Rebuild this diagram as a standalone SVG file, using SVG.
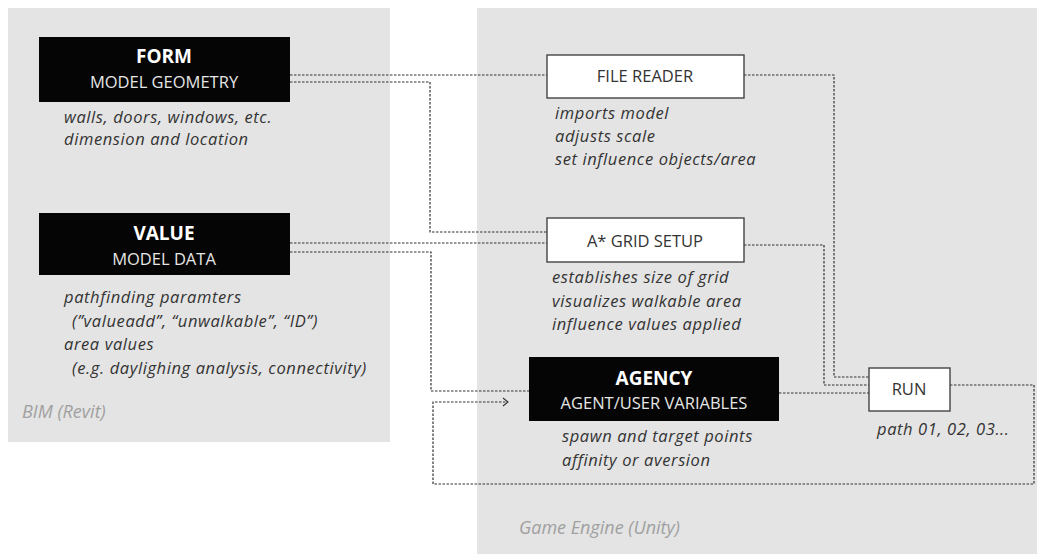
<svg xmlns="http://www.w3.org/2000/svg" width="1042" height="554" viewBox="0 0 1042 554">
<defs>
<style>
.panel{fill:#e4e4e4}
.dark{fill:#050505}
.light{fill:#ffffff;stroke:#444;stroke-width:1.4}
.t1{font-family:"Open Sans",Lato,sans-serif;font-weight:700;font-size:19px;fill:#fff;text-anchor:middle}
.t2{font-family:"Open Sans",Lato,sans-serif;font-size:16.5px;fill:#e6e6e6;text-anchor:middle}
.t3{font-family:"Open Sans",Lato,sans-serif;font-size:16.5px;fill:#333;text-anchor:middle}
.it{font-family:"Open Sans",Lato,sans-serif;font-style:italic;font-size:16.5px;letter-spacing:0.6px;fill:#333}
.cap{font-family:"Open Sans",Lato,sans-serif;font-style:italic;font-size:18px;fill:#a0a0a0}
.con{fill:none;stroke:#333;stroke-width:1.2;stroke-dasharray:2.5 1.5}
</style>
<marker id="chev" markerWidth="8" markerHeight="10" refX="6" refY="5" orient="auto" markerUnits="userSpaceOnUse">
<path d="M1,1 L6,5 L1,9" fill="none" stroke="#333" stroke-width="1.1"/>
</marker>
</defs>
<rect width="1042" height="554" fill="#fff"/>
<g id="panel-bim">
<rect class="panel" x="8" y="8" width="382" height="434"/>
<text class="cap" x="22" y="418">BIM (Revit)</text>
</g>
<g id="panel-unity">
<rect class="panel" x="477" y="8" width="560" height="546"/>
<text class="cap" x="519" y="534">Game Engine (Unity)</text>
</g>
<g id="connectors">
<path class="con" d="M290,75 H547"/>
<path class="con" d="M290,82 H430 V232 H547"/>
<path class="con" d="M290,243 H547"/>
<path class="con" d="M290,252 H431 V391 H529"/>
<path class="con" d="M744,75 H834 V377 H869"/>
<path class="con" d="M744,245 H824 V385 H869"/>
<path class="con" d="M779,393 H869"/>
<path class="con" d="M950,385 H1034 V484 H433 V402 H508" marker-end="url(#chev)"/>
</g>
<g id="node-form">
<rect class="dark" x="39" y="37" width="251" height="65"/>
<text class="t1" x="164" y="63">FORM</text>
<text class="t2" x="164" y="88">MODEL GEOMETRY</text>
<text class="it" x="64" y="123">walls, doors, windows, etc.</text>
<text class="it" x="64" y="145">dimension and location</text>
</g>
<g id="node-value">
<rect class="dark" x="39" y="213" width="251" height="62"/>
<text class="t1" x="164" y="240">VALUE</text>
<text class="t2" x="164" y="265">MODEL DATA</text>
<text class="it" x="64" y="303">pathfinding paramters</text>
<text class="it" x="72" y="327">(”valueadd”, “unwalkable”, “ID”)</text>
<text class="it" x="64" y="350">area values</text>
<text class="it" x="72" y="374">(e.g. daylighing analysis, connectivity)</text>
</g>
<g id="node-file-reader">
<rect class="light" x="547" y="55" width="197" height="43"/>
<text class="t3" x="645" y="82">FILE READER</text>
<text class="it" x="555" y="119">imports  model</text>
<text class="it" x="555" y="142">adjusts scale</text>
<text class="it" x="555" y="165">set influence objects/area</text>
</g>
<g id="node-grid">
<rect class="light" x="547" y="218" width="197" height="44"/>
<text class="t3" x="645" y="247">A* GRID SETUP</text>
<text class="it" x="552" y="283">establishes size of grid</text>
<text class="it" x="552" y="307">visualizes walkable area</text>
<text class="it" x="552" y="330">influence values applied</text>
</g>
<g id="node-agency">
<rect class="dark" x="529" y="357" width="250" height="64"/>
<text class="t1" x="654" y="385">AGENCY</text>
<text class="t2" x="654" y="409">AGENT/USER VARIABLES</text>
<text class="it" x="562" y="442">spawn and target points</text>
<text class="it" x="562" y="466">affinity or aversion</text>
</g>
<g id="node-run">
<rect class="light" x="869" y="368" width="81" height="43"/>
<text class="t3" x="909" y="395">RUN</text>
<text class="it" x="877" y="435">path 01, 02, 03...</text>
</g>
</svg>
